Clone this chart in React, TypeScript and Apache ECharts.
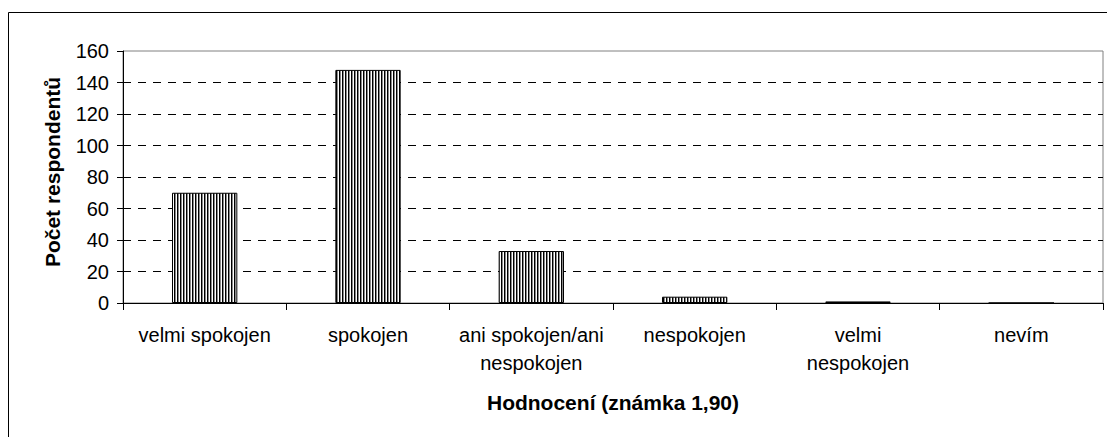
import React, { useEffect, useRef } from "react";
import * as echarts from "echarts";

const categories = [
  "velmi spokojen",
  "spokojen",
  "ani spokojen/ani\nnespokojen",
  "nespokojen",
  "velmi\nnespokojen",
  "nevím",
];
const values = [70, 148, 33, 4, 1, 0];
const yTicks = { min: 0, max: 160, interval: 20 };
const xTitle = "Hodnocení (známka 1,90)";
const yTitle = "Počet respondentů";

const FONT = "'Liberation Sans', Arial, sans-serif";

function makePattern(): HTMLCanvasElement {
  const c = document.createElement("canvas");
  c.width = 3;
  c.height = 4;
  const ctx = c.getContext("2d")!;
  ctx.fillStyle = "#ffffff";
  ctx.fillRect(0, 0, 3, 4);
  ctx.fillStyle = "#000000";
  ctx.fillRect(0, 0, 1, 4);
  ctx.fillStyle = "#8a8a8a";
  ctx.fillRect(1, 0, 1, 4);
  return c;
}

export default function App() {
  const ref = useRef<HTMLDivElement>(null);
  useEffect(() => {
    if (!ref.current) return;
    const chart = echarts.init(ref.current, undefined, { renderer: "svg" });
    const pattern = makePattern();
    chart.setOption({
      animation: false,
      backgroundColor: "#ffffff",
      textStyle: { fontFamily: FONT },
      graphic: [
        {
          type: "rect",
          shape: { x: 8.5, y: 12.5, width: 1200, height: 500 },
          style: { fill: "none", stroke: "#000", lineWidth: 1 },
          silent: true,
        },
      ],
      grid: {
        left: 123,
        top: 51,
        right: 4,
        bottom: 134,
        show: true,
        borderColor: "#808080",
        borderWidth: 1,
        backgroundColor: "transparent",
      },
      xAxis: {
        type: "category",
        data: categories,
        name: xTitle,
        nameLocation: "middle",
        nameGap: 89,
        nameTextStyle: {
          fontFamily: FONT,
          fontSize: 21,
          fontWeight: "bold",
          color: "#000",
        },
        axisLine: { lineStyle: { color: "#000", width: 1 } },
        axisTick: { show: true, length: 7, lineStyle: { color: "#000" } },
        axisLabel: {
          interval: 0,
          color: "#000",
          fontFamily: FONT,
          fontSize: 20,
          lineHeight: 28,
          margin: 18,
        },
        splitLine: { show: false },
      },
      yAxis: {
        type: "value",
        min: yTicks.min,
        max: yTicks.max,
        interval: yTicks.interval,
        name: yTitle,
        nameLocation: "middle",
        nameGap: 60,
        nameTextStyle: {
          fontFamily: FONT,
          fontSize: 21,
          fontWeight: "bold",
          color: "#000",
          padding: [0, 0, 0, 10],
        },
        axisLine: { show: true, lineStyle: { color: "#000", width: 1 } },
        axisTick: { show: true, length: 6, lineStyle: { color: "#000" } },
        axisLabel: {
          color: "#000",
          fontFamily: FONT,
          fontSize: 20,
          margin: 14,
        },
        splitLine: {
          show: true,
          showMinLine: false,
          showMaxLine: false,
          lineStyle: { color: "#000", type: [8, 7], width: 1 },
        },
      },
      series: [
        {
          type: "bar",
          data: values,
          barWidth: "40%",
          itemStyle: {
            color: { image: pattern, repeat: "repeat" },
            borderColor: "#000",
            borderWidth: 1,
          },
        },
      ],
    });
    return () => chart.dispose();
  }, []);
  return (
    <div
      ref={ref}
      style={{ position: "absolute", left: 0, top: 0, width: 1107, height: 437 }}
    />
  );
}
